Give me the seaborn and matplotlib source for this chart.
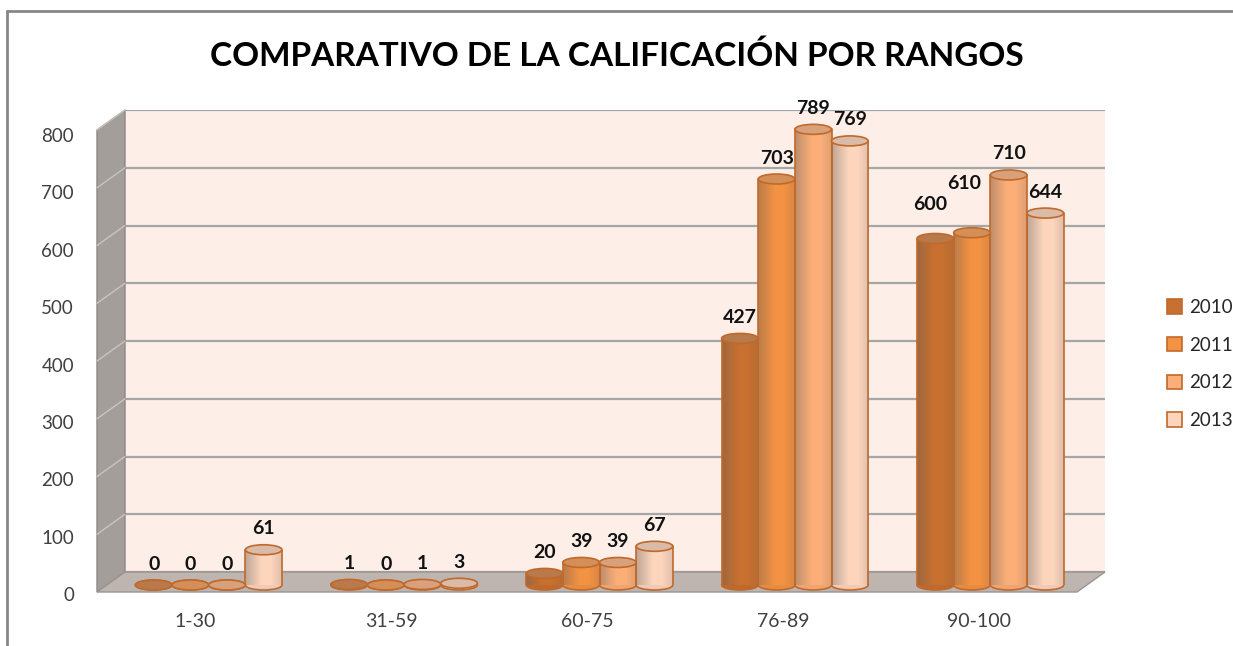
import matplotlib

matplotlib.use("Agg")
import matplotlib.pyplot as plt
import numpy as np
import pandas as pd
import seaborn as sns
from matplotlib.colors import to_rgb
from matplotlib.lines import Line2D
from matplotlib.patches import Ellipse, Polygon, Rectangle

rangos = ["1-30", "31-59", "60-75", "76-89", "90-100"]
anios = ["2010", "2011", "2012", "2013"]
valores_2010 = [0, 1, 20, 427, 600]
valores_2011 = [0, 0, 39, 703, 610]
valores_2012 = [0, 1, 39, 789, 710]
valores_2013 = [61, 3, 67, 769, 644]
y_ticks = [0, 100, 200, 300, 400, 500, 600, 700, 800]

colores = ["#C8702F", "#F39242", "#FBAE78", "#FDD5BD"]
borde = "#C0692B"

df = pd.DataFrame({
    "rango": rangos * 4,
    "anio": [a for a in anios for _ in rangos],
    "valor": valores_2010 + valores_2011 + valores_2012 + valores_2013,
})

sns.set_theme(style="white")
plt.rcParams["font.family"] = ["Lato", "DejaVu Sans"]

W, H = 1233, 646
fig = plt.figure(figsize=(W / 100, H / 100), dpi=100)


def box(left, top, right, bottom):
    return [left / W, 1 - bottom / H, (right - left) / W, (bottom - top) / H]


def pt(x, y):
    return (x / W, 1 - y / H)


def mezcla(c, otro, t):
    a, b = to_rgb(c), to_rgb(otro)
    return tuple(a[i] * (1 - t) + b[i] * t for i in range(3))


# outer chart border
fig.add_artist(Line2D([7 / W, 7 / W], [0, 1 - 11 / H], transform=fig.transFigure, color="#878787", lw=2))
fig.add_artist(Line2D([7 / W, 1232 / W], [1 - 11 / H, 1 - 11 / H], transform=fig.transFigure, color="#878787", lw=2))

# back wall with gridlines
back = fig.add_axes(box(125, 110, 1105, 572), zorder=0)
back.set_facecolor("#FDEEE7")
back.set_ylim(0, 800)
back.set_xlim(0, 1)
for v in y_ticks:
    back.axhline(v, color="#A6A6A6", lw=1.6)
back.set_xticks([])
back.set_yticks([])
for s in back.spines.values():
    s.set_visible(False)

# side wall and floor
fig.add_artist(Polygon([pt(97, 130), pt(125, 110), pt(125, 572), pt(97, 592)],
                       closed=True, transform=fig.transFigure, facecolor="#A39E9A",
                       edgecolor="#8C8885", lw=1, zorder=0.5))
scale = (572 - 110) / 800
for v in y_ticks[1:]:
    fig.add_artist(Line2D([97 / W, 125 / W],
                          [1 - (592 - v * scale) / H, 1 - (572 - v * scale) / H],
                          transform=fig.transFigure, color="#C8C4C1", lw=1, zorder=0.6))
fig.add_artist(Polygon([pt(97, 592), pt(125, 572), pt(1105, 572), pt(1077, 592)],
                       closed=True, transform=fig.transFigure, facecolor="#BEB5B1",
                       edgecolor="#9A9491", lw=1, zorder=0.5))

# bars
ax = fig.add_axes(box(111, 123, 1088, 585), zorder=1)
ax.patch.set_alpha(0)
sns.barplot(data=df, x="rango", y="valor", hue="anio", palette=colores,
            width=0.75, edgecolor=borde, linewidth=1.2, saturation=1,
            legend=False, ax=ax)

# cylinder look derived from the drawn bars
cap_h = 10 / scale
u = np.linspace(0, 1, 64)
sombra = np.zeros((1, 64, 4))
sombra[0, :, 3] = np.clip(0.38 * (1 - u / 0.45), 0, None) + np.clip(0.18 * (u - 0.7) / 0.3, 0, None)
sombra[0, :, :3] = 0.35
for cont, color in zip(ax.containers, colores):
    for bar in cont:
        x0 = bar.get_x()
        w = bar.get_width()
        h = bar.get_height()
        cx = x0 + w / 2
        bar.set_edgecolor("none")
        ax.add_patch(Ellipse((cx, 0), w, cap_h, facecolor=mezcla(color, "#000000", 0.05),
                             edgecolor=borde, lw=1.2, zorder=bar.get_zorder() - 0.1, clip_on=False))
        if h > 0:
            img = ax.imshow(sombra, extent=(x0, x0 + w, 0, h), aspect="auto",
                            interpolation="bilinear", zorder=bar.get_zorder() + 0.02)
            img.set_clip_path(bar)
        for xe in (x0, x0 + w):
            ax.add_line(Line2D([xe, xe], [0, h], color=borde, lw=1.2,
                               zorder=bar.get_zorder() + 0.05))
        ax.add_patch(Ellipse((cx, h), w, cap_h, facecolor=mezcla(color, "#9A8A80", 0.35),
                             edgecolor=borde, lw=1.2, zorder=bar.get_zorder() + 0.1, clip_on=False))

ax.set_ylim(0, 800)
ax.set_xlim(-0.5, 4.5)

# Excel nudged two crowded labels in the 90-100 group upward
nudges = {("2010", "90-100"): (-4, 9), ("2011", "90-100"): (-6, 20)}
for anio, cont in zip(anios, ax.containers):
    labels = ax.bar_label(cont, fmt="%d", padding=9, fontsize=14, fontweight="bold", color="#111111")
    for rango, lab in zip(rangos, labels):
        dx, dy = nudges.get((anio, rango), (0, 0))
        ox, oy = lab.xyann
        lab.xyann = (ox + dx, oy + dy)
ax.set_xticks([])
ax.set_yticks([])
ax.set_xlabel("")
ax.set_ylabel("")
for s in ax.spines.values():
    s.set_visible(False)

# front axis for tick labels
front = fig.add_axes(box(97, 135, 1077, 594), zorder=2)
front.patch.set_alpha(0)
front.set_ylim(0, 800)
front.set_xlim(-0.5, 4.5)
front.set_yticks(y_ticks)
front.set_yticklabels([str(v) for v in y_ticks])
front.set_xticks(range(len(rangos)))
front.set_xticklabels(rangos)
front.tick_params(axis="y", length=0, pad=16.5, labelsize=13.5, labelcolor="#404040")
front.tick_params(axis="x", length=0, pad=14, labelsize=14, labelcolor="#404040")
for s in front.spines.values():
    s.set_visible(False)

fig.text(0.5, 1 - 56 / H, "COMPARATIVO DE LA CALIFICACIÓN POR RANGOS",
         ha="center", va="center", fontsize=24, fontweight="bold", color="#000000")

handles = [Rectangle((0, 0), 1, 1, facecolor=c, edgecolor=borde, lw=1.2) for c in colores]
fig.legend(handles, anios, loc="center left", bbox_to_anchor=(1150 / W, 1 - 364 / H),
           frameon=False, fontsize=13.5, handlelength=0.8, handleheight=0.8,
           handletextpad=0.4, labelspacing=1.1, labelcolor="#262626")

fig.savefig("out.png", dpi=100)
